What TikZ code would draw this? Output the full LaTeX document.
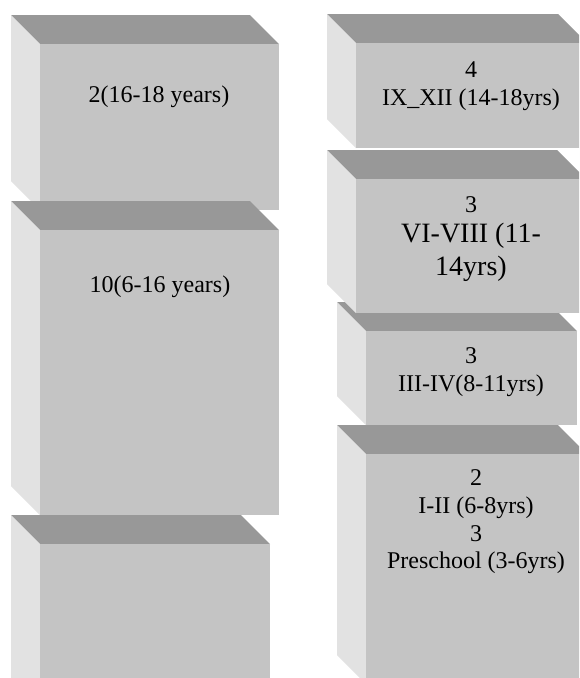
\documentclass[tikz,border=0pt]{standalone}
\usepackage{fontspec}
\setmainfont{Liberation Serif}
\definecolor{facefront}{RGB}{196,196,196}
\definecolor{facetop}{RGB}{152,152,152}
\definecolor{faceside}{RGB}{226,226,226}
\newcommand\bigline{\fontsize{28}{32}\selectfont}
\begin{document}
\begin{tikzpicture}[x=1pt, y=-1pt,
    frontface/.style={fill=facefront},
    topface/.style={fill=facetop},
    sideface/.style={fill=faceside},
    lbl/.style={align=center, inner sep=0pt, font=\fontsize{24}{27.6}\selectfont}]
\clip (0,0) rectangle (579,678);
\fill[white] (0,0) rectangle (579,678);
% boxes: back-left corner, width, height of front
\foreach \bx/\by/\w/\h in {11/15/239/166, 11/201/239/285, 11/515/230/200,
    337/425/221/230, 337/302/211/94, 327/150/230/134, 327/14/231/105}
{
    \fill[topface] (\bx,\by)--++(\w,0)--++(29,29)--++(-\w,0)--cycle;
    \fill[sideface] (\bx,\by)--++(29,29)--++(0,\h)--++(-29,-29)--cycle;
    \fill[frontface] (\bx+29,\by+29) rectangle ++(\w,\h);
}
\node (old2) at (159,97)[lbl]{2(16-18 years)};
\node (old10) at (160,287)[lbl]{10(6-16 years)};
\node (new4) at (471,86)[lbl]{4\\IX\_XII (14-18yrs)};
\node (new3a) at (471,239)[lbl]{3\\[2pt]\bigline VI-VIII (11-\\[5pt]\bigline 14yrs)};
\node (new3b) at (471,372)[lbl]{3\\III-IV(8-11yrs)};
\node (new23) at (476,522)[lbl]{2\\I-II (6-8yrs)\\3\\Preschool (3-6yrs)};
\end{tikzpicture}
\end{document}
